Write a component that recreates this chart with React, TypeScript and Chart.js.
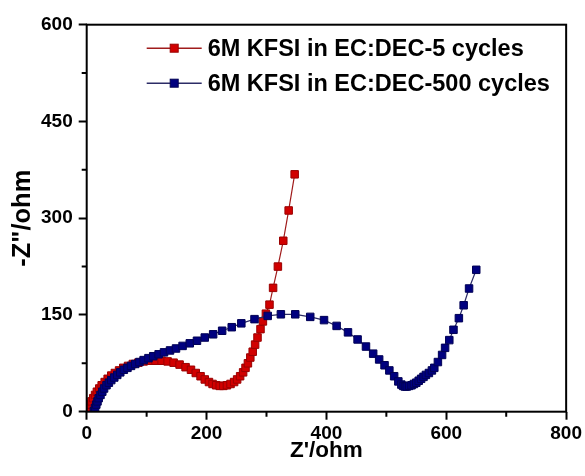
import React, { useEffect, useRef } from "react";
import { Chart, registerables } from "chart.js";

Chart.register(...registerables);

// ---- Data ----
const seriesNames = ["6M KFSI in EC:DEC-5 cycles", "6M KFSI in EC:DEC-500 cycles"];

const redZre = [2, 4, 6, 8, 11, 14, 17, 21, 25, 30, 35, 41, 47, 54, 61, 69, 77, 86, 95, 105, 115, 125, 135, 145, 155, 165, 174, 182, 190, 197, 204, 210, 216, 222, 228, 234, 240, 246, 251, 256, 261, 265, 269, 273, 277, 281, 285, 290, 294, 299, 305, 311, 319, 328, 337, 347];
const redZim = [1, 6, 11, 16, 21, 26, 31, 36, 41, 46, 51, 56, 60, 64, 68, 71, 74, 76, 78, 79, 79, 79, 78, 76, 73, 69, 65, 60, 55, 50, 46, 43, 41, 40, 40, 41, 43, 46, 50, 55, 61, 68, 75, 84, 93, 104, 115, 128, 140, 152, 166, 192, 225, 265, 312, 368];

const blueZre = [12, 14, 16, 18, 20, 23, 26, 29, 33, 37, 41, 46, 51, 56, 62, 68, 74, 81, 88, 95, 103, 111, 120, 129, 139, 149, 160, 172, 184, 197, 211, 226, 242, 258, 280, 302, 324, 348, 373, 396, 417, 436, 452, 466, 478, 488, 497, 505, 513, 520, 525, 528, 531, 534, 538, 542, 546, 550, 554, 558, 562, 566, 571, 576, 580, 586, 593, 598, 605, 612, 621, 629, 638, 650];
const blueZim = [1, 6, 11, 16, 21, 26, 31, 36, 41, 45, 49, 53, 57, 61, 65, 68, 71, 74, 77, 80, 83, 86, 89, 92, 95, 98, 102, 106, 110, 115, 120, 125.5, 131, 137, 143.5, 148.5, 151, 151, 147, 142, 133, 123, 112, 101, 90, 81, 72, 64, 55, 47, 42, 40, 39, 39, 40, 41, 43, 45, 48, 51, 54, 57, 60, 64, 68, 77, 88, 99, 111, 127, 145, 165, 191, 220];

const xTickValues = [0, 200, 400, 600, 800];
const yTickValues = [0, 150, 300, 450, 600];
const xMinorTicks = [100, 300, 500, 700];
const yMinorTicks = [75, 225, 375, 525];

const FONT = "'Liberation Sans', Arial, Helvetica, sans-serif";
const RED_FILL = "#d10000";
const RED_EDGE = "#9a0000";
const RED_LINE = "#a01c1c";
const BLUE_FILL = "#00007f";
const BLUE_EDGE = "#000055";
const BLUE_LINE = "#2c2c66";

const framePlugin = {
  id: "frameAndLegend",
  afterDraw(chart: any) {
    const { ctx, chartArea } = chart;
    const { left, right, top, bottom } = chartArea;
    ctx.save();
    // frame
    ctx.strokeStyle = "#000";
    ctx.lineWidth = 2;
    ctx.strokeRect(left, top, right - left, bottom - top);
    // minor ticks
    const xs = chart.scales.x;
    const ys = chart.scales.y;
    ctx.beginPath();
    xMinorTicks.forEach((v) => {
      const px = xs.getPixelForValue(v);
      ctx.moveTo(px, bottom);
      ctx.lineTo(px, bottom + 5);
    });
    yMinorTicks.forEach((v) => {
      const py = ys.getPixelForValue(v);
      ctx.moveTo(left - 5, py);
      ctx.lineTo(left, py);
    });
    ctx.stroke();

    // legend
    const rows = [
      { name: seriesNames[0], line: RED_LINE, fill: RED_FILL, edge: RED_EDGE },
      { name: seriesNames[1], line: BLUE_LINE, fill: BLUE_FILL, edge: BLUE_EDGE },
    ];
    const x0 = left + 60;
    const x1 = left + 115;
    rows.forEach((r, i) => {
      const y = top + 23.5 + i * 35;
      ctx.strokeStyle = r.line;
      ctx.lineWidth = 1.5;
      ctx.beginPath();
      ctx.moveTo(x0, y);
      ctx.lineTo(x1, y);
      ctx.stroke();
      const cx = (x0 + x1) / 2;
      ctx.fillStyle = r.fill;
      ctx.fillRect(cx - 4, y - 4, 8, 8);
      ctx.strokeStyle = r.edge;
      ctx.lineWidth = 1;
      ctx.strokeRect(cx - 4, y - 4, 8, 8);
      ctx.fillStyle = "#000";
      ctx.font = `bold 23.5px ${FONT}`;
      ctx.textAlign = "left";
      ctx.textBaseline = "middle";
      ctx.fillText(r.name, x1 + 6, y + 1);
    });
    ctx.restore();
  },
};

export default function App() {
  const canvasRef = useRef<HTMLCanvasElement | null>(null);

  useEffect(() => {
    document.body.style.margin = "0";
    const canvas = canvasRef.current;
    if (!canvas) return;
    const redData = redZre.map((x, i) => ({ x, y: redZim[i] }));
    const blueData = blueZre.map((x, i) => ({ x, y: blueZim[i] }));

    const chart = new Chart(canvas, {
      type: "scatter",
      data: {
        datasets: [
          {
            label: seriesNames[0],
            data: redData,
            showLine: true,
            order: 1,
            borderColor: RED_LINE,
            borderWidth: 1.2,
            pointStyle: "rect",
            pointRadius: 5.3,
            pointBackgroundColor: RED_FILL,
            pointBorderColor: RED_EDGE,
            pointBorderWidth: 1,
          },
          {
            label: seriesNames[1],
            data: blueData,
            showLine: true,
            order: 0,
            borderColor: BLUE_LINE,
            borderWidth: 1.2,
            pointStyle: "rect",
            pointRadius: 5.3,
            pointBackgroundColor: BLUE_FILL,
            pointBorderColor: BLUE_EDGE,
            pointBorderWidth: 1,
          },
        ],
      },
      options: {
        animation: false,
        responsive: false,
        events: [],
        layout: { padding: { top: 24.7, right: 18, left: 0, bottom: 0 } },
        plugins: { legend: { display: false }, tooltip: { enabled: false } },
        scales: {
          x: {
            type: "linear",
            min: 0,
            max: 800,
            afterFit: (s: any) => {
              s.height = 64.3;
            },
            afterBuildTicks: (s: any) => {
              s.ticks = xTickValues.map((v) => ({ value: v }));
            },
            ticks: {
              color: "#000",
              font: { family: FONT, size: 19, weight: "bold" },
              padding: 3,
              maxRotation: 0,
            },
            grid: {
              drawOnChartArea: false,
              drawTicks: true,
              tickLength: 8,
              tickWidth: 2,
              tickColor: "#000",
            },
            border: { display: false },
            title: {
              display: true,
              text: "Z'/ohm",
              color: "#000",
              font: { family: FONT, size: 22.5, weight: "bold", lineHeight: 1 },
              padding: { top: 0, bottom: 14 },
            },
          },
          y: {
            type: "linear",
            min: 0,
            max: 600,
            afterFit: (s: any) => {
              s.width = 86.7;
            },
            afterBuildTicks: (s: any) => {
              s.ticks = yTickValues.map((v) => ({ value: v }));
            },
            ticks: {
              color: "#000",
              font: { family: FONT, size: 19, weight: "bold" },
              padding: 6,
            },
            grid: {
              drawOnChartArea: false,
              drawTicks: true,
              tickLength: 8,
              tickWidth: 2,
              tickColor: "#000",
            },
            border: { display: false },
            title: {
              display: true,
              text: "-Z\"/ohm",
              color: "#000",
              font: { family: FONT, size: 25.5, weight: "bold", lineHeight: 1 },
              padding: { top: 10.5, bottom: 0 },
            },
          },
        },
      },
      plugins: [framePlugin],
    });
    return () => chart.destroy();
  }, []);

  return (
    <div style={{ position: "absolute", left: 0, top: 0, width: 585, height: 476, background: "#fff" }}>
      <canvas ref={canvasRef} width={585} height={476} />
    </div>
  );
}
